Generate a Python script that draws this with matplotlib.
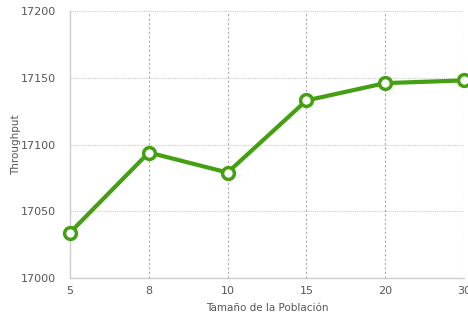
import matplotlib.pyplot as plt

# Throughput for each population size
sizes = ["5", "8", "10", "15", "20", "30"]
throughput = [17034, 17094, 17079, 17133, 17146, 17148]

fig = plt.figure(figsize=(4.68, 3.24), dpi=100)
ax = fig.add_axes([0.1496, 0.142, 0.842, 0.824])

x = list(range(len(sizes)))
green = "#44a012"
ax.plot(x, throughput, color=green, linewidth=3.0, marker="o", markersize=8.5,
        markerfacecolor="white", markeredgecolor=green, markeredgewidth=2.5,
        zorder=3, clip_on=False)

ax.set_xlim(0, len(sizes) - 1)
ax.set_ylim(17000, 17200)
ax.set_xticks(x)
ax.set_xticklabels(sizes)
ax.set_yticks([17000, 17050, 17100, 17150, 17200])

# light dotted horizontal grid, dashed vertical grid
for yv in [17050, 17100, 17150, 17200]:
    ax.axhline(yv, color="#cccccc", linestyle=(0, (1, 1)), linewidth=0.8, zorder=1)
for xv in x[1:]:
    ax.axvline(xv, color="#aaaaaa", linestyle=(0, (2, 2)), linewidth=0.8, zorder=1)

for side in ["top", "right"]:
    ax.spines[side].set_visible(False)
for side in ["left", "bottom"]:
    ax.spines[side].set_color("#cccccc")
    ax.spines[side].set_linewidth(1.0)

ax.tick_params(length=0, labelsize=8, colors="#555555")
ax.tick_params(axis="x", pad=6)
ax.tick_params(axis="y", pad=10)
ax.set_xlabel("Tamaño de la Población", fontsize=7.5, color="#555555", labelpad=5)
ax.set_ylabel("Throughput", fontsize=7.5, color="#555555", labelpad=0)

plt.savefig("out.png", dpi=100)
